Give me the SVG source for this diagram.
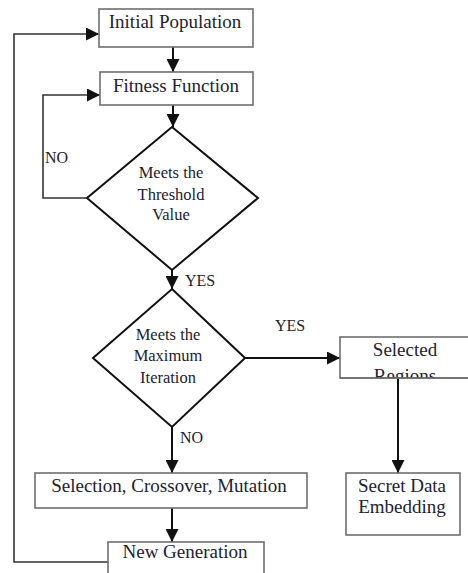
<svg xmlns="http://www.w3.org/2000/svg" width="468" height="573" viewBox="0 0 468 573">
  <style>
    .box { fill: #fff; stroke: #6e6e6e; stroke-width: 1.6; }
    .dia { fill: #fff; stroke: #111; stroke-width: 2; }
    .t { font-family: "Liberation Serif", "Times New Roman", serif; font-size: 19px; fill: #222233; text-anchor: middle; }
    .d { font-family: "Liberation Serif", "Times New Roman", serif; font-size: 16.5px; fill: #222233; text-anchor: middle; }
    .lbl { font-family: "Liberation Serif", "Times New Roman", serif; font-size: 16px; fill: #222233; }
    .c { fill: none; stroke: #111; stroke-width: 2; }
    .loop { fill: none; stroke: #333; stroke-width: 1.6; }
  </style>
  <defs>
    <marker id="arrow" markerUnits="userSpaceOnUse" markerWidth="13" markerHeight="13" refX="13" refY="6.5" orient="auto">
      <path d="M0,0 L13,6.5 L0,13 z" fill="#111"/>
    </marker>
    <clipPath id="selClip">
      <rect x="340" y="337" width="130" height="41"/>
    </clipPath>
  </defs>

  <rect width="468" height="573" fill="#fff"/>

  <!-- connectors -->
  <g id="connectors">
    <line class="c" x1="173" y1="47" x2="173" y2="72" marker-end="url(#arrow)"/>
    <line class="c" x1="173" y1="105" x2="173" y2="127" marker-end="url(#arrow)"/>
    <polyline class="loop" points="87,198 43,198 43,95 100,95" marker-end="url(#arrow)"/>
    <line class="c" x1="172" y1="270" x2="172" y2="289" marker-end="url(#arrow)"/>
    <line class="c" x1="245" y1="358" x2="340" y2="358" marker-end="url(#arrow)"/>
    <line class="c" x1="172" y1="427" x2="172" y2="473" marker-end="url(#arrow)"/>
    <line class="c" x1="172" y1="508" x2="172" y2="542" marker-end="url(#arrow)"/>
    <line class="c" x1="398" y1="378" x2="398" y2="473" marker-end="url(#arrow)"/>
    <polyline class="loop" points="108,562 14,562 14,34 99,34" marker-end="url(#arrow)"/>
    <text class="lbl" x="45" y="163">NO</text>
    <text class="lbl" x="185" y="286">YES</text>
    <text class="lbl" x="275" y="331">YES</text>
    <text class="lbl" x="180" y="443">NO</text>
  </g>

  <g id="initial-population">
    <rect class="box" x="99" y="9" width="154" height="38"/>
    <text class="t" x="175" y="28">Initial Population</text>
  </g>

  <g id="fitness-function">
    <rect class="box" x="100" y="72" width="153" height="33"/>
    <text class="t" x="176" y="92">Fitness Function</text>
  </g>

  <g id="threshold-check">
    <polygon class="dia" points="172,127 258,198 172,270 87,198"/>
    <text class="d" x="171" y="178">Meets the</text>
    <text class="d" x="171" y="200">Threshold</text>
    <text class="d" x="171" y="220">Value</text>
  </g>

  <g id="iteration-check">
    <polygon class="dia" points="172,289 245,358 172,427 93,358"/>
    <text class="d" x="168" y="340">Meets the</text>
    <text class="d" x="168" y="361">Maximum</text>
    <text class="d" x="168" y="383">Iteration</text>
  </g>

  <g id="selected-regions">
    <rect class="box" x="340" y="337" width="140" height="41"/>
    <g clip-path="url(#selClip)">
      <text class="t" x="405" y="356">Selected</text>
      <text class="t" x="405" y="382">Regions</text>
    </g>
    <line x1="340" y1="378" x2="470" y2="378" stroke="#6e6e6e" stroke-width="1.6"/>
  </g>

  <g id="genetic-operators">
    <rect class="box" x="35" y="473" width="272" height="35"/>
    <text class="t" x="169" y="492">Selection, Crossover, Mutation</text>
  </g>

  <g id="secret-data-embedding">
    <rect class="box" x="346" y="473" width="114" height="62"/>
    <text class="t" x="402" y="492">Secret Data</text>
    <text class="t" x="402" y="513">Embedding</text>
  </g>

  <g id="new-generation">
    <rect class="box" x="108" y="542" width="156" height="40"/>
    <text class="t" x="185" y="558">New Generation</text>
  </g>
</svg>
